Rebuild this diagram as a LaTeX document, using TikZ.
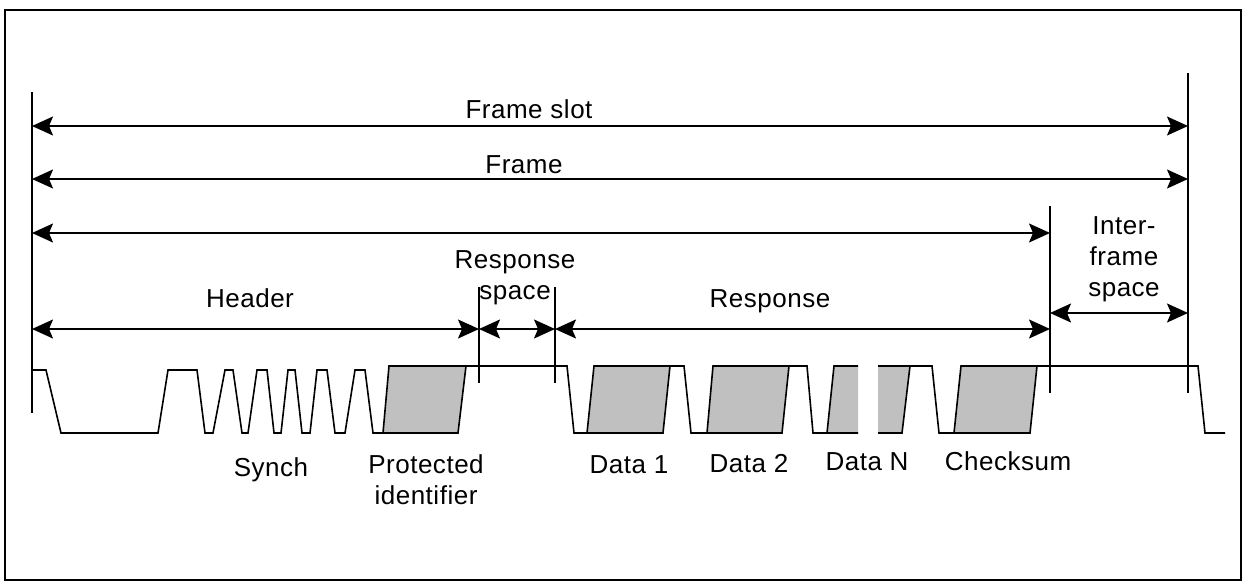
\documentclass[tikz,border=0pt]{standalone}
\usepackage{fontspec}
\setmainfont{Liberation Sans}[LetterSpace=2]
\usetikzlibrary{arrows.meta}
\definecolor{boxgrey}{HTML}{C0C0C0}
\tikzset{
  dim/.style={line width=1.6pt, {Stealth[length=21pt,width=19pt,inset=4pt]}-{Stealth[length=21pt,width=19pt,inset=4pt]}},
  marker/.style={line width=1.6pt},
  sig/.style={line width=1.6pt, line join=miter},
  databox/.style={line width=1.6pt, fill=boxgrey},
  lbl/.style={anchor=base, inner sep=0pt, font=\fontsize{26}{31}\selectfont},
  mlbl/.style={anchor=base, inner sep=0pt, align=center, font=\fontsize{26}{31}\selectfont}
}
\begin{document}
\begin{tikzpicture}[x=1pt,y=-1pt]
\useasboundingbox (0,0) rectangle (1242,581);
\draw[line width=2.6pt] (5,10) rectangle (1241,580);

% markers
\coordinate (L0t) at (32,92);   \coordinate (L0b) at (32,413);
\coordinate (R0t) at (1188,73); \coordinate (R0b) at (1188,393);
\coordinate (IFt) at (1050,206);\coordinate (IFb) at (1050,393);
\coordinate (RS1t) at (479,287);\coordinate (RS1b) at (479,383);
\coordinate (RS2t) at (555,287);\coordinate (RS2b) at (555,383);
\draw[marker] (L0t) -- (L0b);
\draw[marker] (R0t) -- (R0b);
\draw[marker] (IFt) -- (IFb);
\draw[marker] (RS1t) -- (RS1b);
\draw[marker] (RS2t) -- (RS2b);

% dimension arrows
\coordinate (fsA) at (32,126);  \coordinate (fsB) at (1188,126);
\coordinate (frA) at (32,179);  \coordinate (frB) at (1188,179);
\coordinate (unA) at (32,233);  \coordinate (unB) at (1050,233);
\coordinate (hdA) at (32,329);  \coordinate (hdB) at (479,329);
\coordinate (rsA) at (479,329); \coordinate (rsB) at (555,329);
\coordinate (reA) at (555,329); \coordinate (reB) at (1050,329);
\coordinate (ifA) at (1050,313);\coordinate (ifB) at (1188,313);
\draw[dim] (fsA) -- (fsB);
\draw[dim] (frA) -- (frB);
\draw[dim] (unA) -- (unB);
\draw[dim] (hdA) -- (hdB);
\draw[dim] (rsA) -- (rsB);
\draw[dim] (reA) -- (reB);
\draw[dim] (ifA) -- (ifB);

% labels (multi-line nodes anchored at the baseline of their last line)
\node[lbl] (tFrameSlot) at (529,118) {Frame slot};
\node[lbl] (tFrame) at (524,173) {Frame};
\node[lbl] (tHeader) at (250,307) {Header};
\node[mlbl] (tRespSpace) at (515,299) {Response\\space};
\node[lbl] (tResponse) at (770,307) {Response};
\node[mlbl] (tInter) at (1124,296) {Inter-\\frame\\space};

% signal
\draw[sig] (32,370) -- (46,370) -- (61,433) -- (158,433) -- (168,370) -- (197,370)
  -- (205,433) -- (213,433) -- (225,370) -- (233,370) -- (242,433) -- (248,433)
  -- (257,370) -- (267,370) -- (274,433) -- (281,433) -- (288,370) -- (295,370)
  -- (302,433) -- (310,433) -- (317,370) -- (327,370) -- (335,433) -- (345,433)
  -- (355,370) -- (365,370) -- (373,433) -- (383,433);
\draw[databox] (383,433) -- (389,366) -- (466,366) -- (458,433) -- cycle;
\draw[sig] (466,366) -- (567,366) -- (574,433) -- (587,433);
\draw[databox] (587,433) -- (594,366) -- (670,366) -- (663,433) -- cycle;
\draw[sig] (670,366) -- (684,366) -- (691,433) -- (707,433);
\draw[databox] (707,433) -- (713,366) -- (789,366) -- (782,433) -- cycle;
\draw[sig] (789,366) -- (807,366) -- (813,433) -- (827,433);
\fill[boxgrey] (827,433) -- (834,366) -- (858,366) -- (858,433) -- cycle;
\draw[sig] (858,433) -- (827,433) -- (834,366) -- (858,366);
\fill[boxgrey] (878,366) -- (910,366) -- (902,433) -- (878,433) -- cycle;
\draw[sig] (878,366) -- (910,366) -- (902,433) -- (878,433);
\draw[sig] (910,366) -- (932,366) -- (939,433) -- (954,433);
\draw[databox] (954,433) -- (961,366) -- (1037,366) -- (1030,433) -- cycle;
\draw[sig] (1037,366) -- (1198,366) -- (1205,433) -- (1225,433);

% bottom labels
\node[lbl] (tSynch) at (271,476) {Synch};
\node[mlbl] (tPid) at (426,504) {Protected\\identifier};
\node[lbl] (tD1) at (629,473) {Data 1};
\node[lbl] (tD2) at (749,472) {Data 2};
\node[lbl] (tDN) at (867,470) {Data N};
\node[lbl] (tCS) at (1008,470) {Checksum};
\end{tikzpicture}
\end{document}
